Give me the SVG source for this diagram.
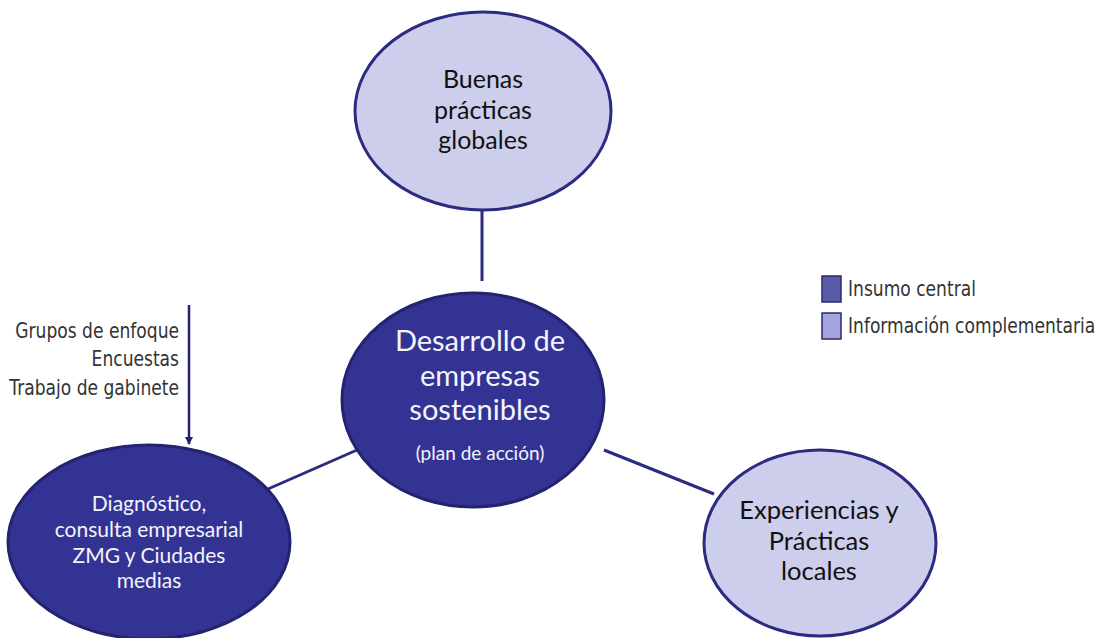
<svg xmlns="http://www.w3.org/2000/svg" width="1099" height="638" viewBox="0 0 1099 638">
<style>
.light{fill:#cdcdec;stroke:#2b2b82;stroke-width:3}
.dark{fill:#333394;stroke:#232370;stroke-width:3}
.conn{stroke:#2b2b82;stroke-width:3;fill:none}
.t{font-family:Lato,"Noto Sans",sans-serif;text-anchor:middle}
.blk{fill:#111}
.wht{fill:#f4f4fb}
.side{font-family:"DejaVu Sans",sans-serif;font-size:21px;fill:#333}
</style>
<defs>
<marker id="ah" markerWidth="8" markerHeight="8" refX="7" refY="4" orient="auto" markerUnits="userSpaceOnUse" viewBox="0 0 8 8">
<path d="M0,0 L8,4 L0,8 Z" fill="#232370"/>
</marker>
</defs>
<rect width="1099" height="638" fill="#fff"/>
<g id="connectors">
<line class="conn" x1="482" y1="211" x2="482" y2="281"/>
<line class="conn" x1="268" y1="489" x2="357" y2="450"/>
<line class="conn" x1="604" y1="450" x2="714" y2="494"/>
<line x1="189" y1="305" x2="189" y2="444" stroke="#232370" stroke-width="2.5" marker-end="url(#ah)"/>
</g>
<g id="node-buenas">
<ellipse class="light" cx="483" cy="111" rx="128" ry="99"/>
<text class="t blk" font-size="25" x="483" y="88">Buenas</text>
<text class="t blk" font-size="25" x="483" y="119">prácticas</text>
<text class="t blk" font-size="25" x="483" y="149">globales</text>
</g>
<g id="node-central">
<ellipse class="dark" cx="473" cy="400" rx="131" ry="107"/>
<text class="t wht" font-size="29" x="480" y="351">Desarrollo de</text>
<text class="t wht" font-size="29" x="480" y="386">empresas</text>
<text class="t wht" font-size="29" x="480" y="420">sostenibles</text>
<text class="t wht" font-size="19" x="480" y="460">(plan de acción)</text>
</g>
<g id="node-diagnostico">
<ellipse class="dark" cx="149" cy="542" rx="141" ry="97"/>
<text class="t wht" font-size="21" x="149" y="511">Diagnóstico,</text>
<text class="t wht" font-size="21" x="149" y="537">consulta empresarial</text>
<text class="t wht" font-size="21" x="149" y="563">ZMG y Ciudades</text>
<text class="t wht" font-size="21" x="149" y="588">medias</text>
</g>
<g id="node-experiencias">
<ellipse class="light" cx="820" cy="543" rx="116" ry="93"/>
<text class="t blk" font-size="25.5" x="819" y="519">Experiencias y</text>
<text class="t blk" font-size="25.5" x="819" y="550">Prácticas</text>
<text class="t blk" font-size="25.5" x="819" y="580">locales</text>
</g>
<g id="inputs-label" transform="translate(179,0) scale(0.815,1)">
<text class="side" text-anchor="end" x="0" y="338">Grupos de enfoque</text>
<text class="side" text-anchor="end" x="0" y="366">Encuestas</text>
<text class="side" text-anchor="end" x="0" y="395">Trabajo de gabinete</text>
</g>
<g id="legend">
<rect x="822" y="276" width="19" height="26" fill="#5a5aaa" stroke="#2b2b6a" stroke-width="1.5"/>
<rect x="822" y="313" width="19" height="26" fill="#a3a3de" stroke="#2b2b6a" stroke-width="1.5"/>
<g transform="translate(848,0) scale(0.815,1)">
<text class="side" x="0" y="296">Insumo central</text>
<text class="side" x="0" y="333">Información complementaria</text>
</g>
</g>
</svg>
